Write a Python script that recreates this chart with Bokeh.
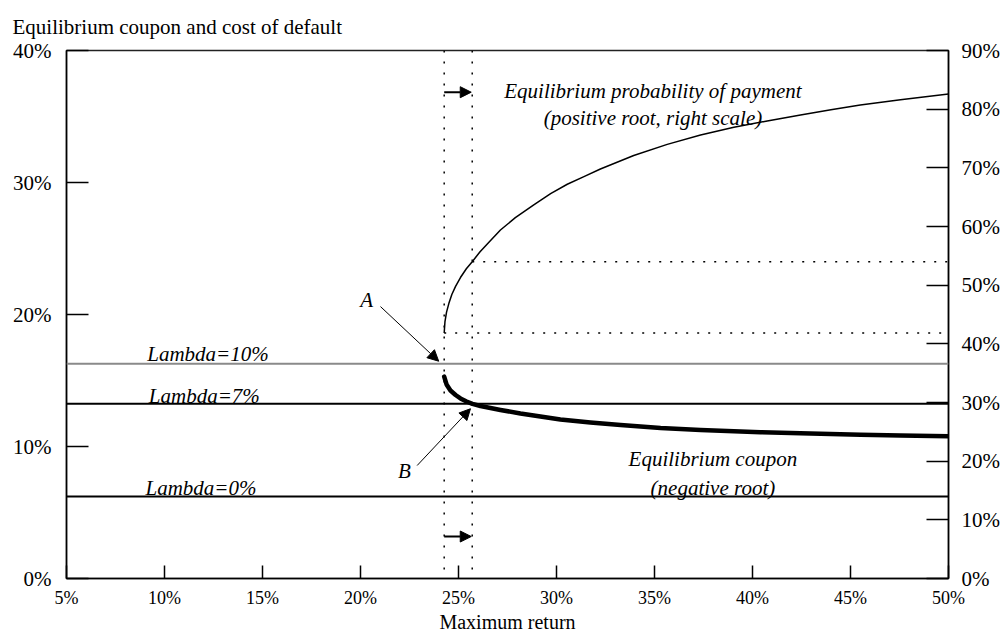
from bokeh.plotting import figure
from bokeh.models import (LinearAxis, Range1d, FixedTicker, Span, Arrow, NormalHead,
                          Title, CustomJSTickFormatter)
from bokeh.core.properties import value
from bokeh.embed import file_html
from bokeh.resources import INLINE

FONT = "Liberation Serif"

# ---------------- data ----------------
x_ticks = [5, 10, 15, 20, 25, 30, 35, 40, 45, 50]
left_ticks = [0, 10, 20, 30, 40]
right_ticks = [0, 10, 20, 30, 40, 50, 60, 70, 80, 90]

lambda_names = ["Lambda=10%", "Lambda=7%", "Lambda=0%"]
lambda_levels = [16.27, 13.23, 6.21]

threshold_x = [24.27, 25.70]        # points A and B
threshold_prob = [41.85, 54.0]      # probability of payment at A and B (right scale)

coupon_x = [24.27, 24.39, 24.59, 24.85, 25.10, 25.41, 25.71, 26.12, 27.14, 28.16,
            29.18, 30.20, 31.73, 33.27, 35.31, 37.35, 40.41, 42.45, 45.51, 47.55, 50.0]
coupon_y = [15.30, 14.70, 14.24, 13.90, 13.64, 13.41, 13.23, 13.07, 12.77, 12.50,
            12.27, 12.05, 11.82, 11.63, 11.40, 11.25, 11.08, 11.00, 10.89, 10.83, 10.78]

prob_x = [24.27, 24.31, 24.39, 24.51, 24.66, 24.85, 25.10, 25.40, 25.70, 26.10,
          26.60, 27.14, 27.90, 28.84, 29.70, 30.55, 31.40, 32.24, 33.94, 35.65,
          37.35, 39.05, 40.75, 42.45, 44.00, 45.50, 47.55, 50.0]
prob_y = [41.85, 43.8, 45.4, 46.9, 48.4, 49.8, 51.3, 52.8, 54.0, 55.7,
          57.5, 59.4, 61.5, 63.7, 65.6, 67.2, 68.5, 69.8, 72.1, 74.0,
          75.6, 76.9, 78.0, 79.0, 79.9, 80.7, 81.6, 82.6]

# ---------------- figure ----------------
p = figure(width=1002, height=635, output_backend="svg", toolbar_location=None,
           x_range=Range1d(x_ticks[0], x_ticks[-1]),
           y_range=Range1d(left_ticks[0], left_ticks[-1]),
           min_border_left=66, min_border_right=54, min_border_top=50, min_border_bottom=57)
p.extra_y_ranges = {"right": Range1d(right_ticks[0], right_ticks[-1])}
p.xgrid.visible = False
p.ygrid.visible = False
p.background_fill_color = "white"
p.border_fill_color = "white"
p.outline_line_color = "#222222"
p.outline_line_width = 1.5

pct = CustomJSTickFormatter(code="return tick.toFixed(0) + '%';")

xa = p.xaxis[0]
xa.ticker = FixedTicker(ticks=x_ticks)
xa.formatter = pct
xa.major_tick_in = 13
xa.major_tick_out = 0
xa.minor_tick_line_color = None
xa.major_label_standoff = 9
xa.major_label_text_font = FONT
xa.major_label_text_font_size = "18px"
xa.major_label_text_color = "black"
xa.axis_line_width = 1.5
xa.major_tick_line_width = 1.5
xa.axis_label = "Maximum return"
xa.axis_label_standoff = 0
xa.axis_label_text_font = FONT
xa.axis_label_text_font_size = "20px"
xa.axis_label_text_font_style = "normal"
xa.axis_label_text_color = "black"

ya = p.yaxis[0]
ya.ticker = FixedTicker(ticks=left_ticks)
ya.formatter = pct
ya.major_tick_in = 22
ya.major_tick_out = 0
ya.minor_tick_line_color = None
ya.major_label_standoff = 15
ya.major_label_text_font = FONT
ya.major_label_text_font_size = "21px"
ya.major_label_text_color = "black"
ya.axis_line_width = 1.5
ya.major_tick_line_width = 1.5

ra = LinearAxis(y_range_name="right", ticker=FixedTicker(ticks=right_ticks), formatter=pct)
ra.major_tick_in = 22
ra.major_tick_out = 0
ra.minor_tick_line_color = None
ra.major_label_standoff = 13
ra.major_label_text_font = FONT
ra.major_label_text_font_size = "21px"
ra.major_label_text_color = "black"
ra.axis_line_width = 1.5
ra.major_tick_line_width = 1.5
p.add_layout(ra, "right")

p.title = Title(text="Equilibrium coupon and cost of default", align="left", offset=-54,
                standoff=24, text_font=FONT, text_font_size="21px",
                text_font_style="normal", text_color="black")

# ---------------- reference lines ----------------
lambda_colors = ["#8a8a8a", "black", "black"]
for lev, col in zip(lambda_levels, lambda_colors):
    p.add_layout(Span(location=lev, dimension="width", line_color=col, line_width=2))

for tx in threshold_x:
    p.add_layout(Span(location=tx, dimension="height", line_color="black",
                      line_width=1.5, line_dash="2 9"))

p.segment(x0=threshold_x, y0=threshold_prob, x1=[x_ticks[-1]] * 2, y1=threshold_prob,
          y_range_name="right", line_color="black", line_width=1.5, line_dash="2 9")

# ---------------- curves ----------------
p.line(prob_x, prob_y, y_range_name="right", line_color="black", line_width=1.5,
       line_join="round")
p.line(coupon_x, coupon_y, line_color="black", line_width=4.5, line_cap="round",
       line_join="round")

# ---------------- arrows ----------------
def head():
    return NormalHead(size=11, fill_color="black", line_color="black")

for ay in [36.84, 3.18]:
    p.add_layout(Arrow(end=head(), x_start=threshold_x[0], y_start=ay,
                       x_end=threshold_x[1] - 0.05, y_end=ay, line_width=2, line_color="black"))
p.add_layout(Arrow(end=head(), x_start=21.02, y_start=20.6, x_end=23.99, y_end=16.46,
                   line_width=1, line_color="black"))
p.add_layout(Arrow(end=head(), x_start=22.89, y_start=8.56, x_end=25.61, y_end=12.86,
                   line_width=1, line_color="black"))

# ---------------- texts ----------------
it = dict(text_font=value(FONT), text_font_style="italic", text_font_size="21px",
          text_color="black")
p.text(x=[9.12, 9.20, 9.03], y=[17.02, 13.79, 6.82], text=lambda_names,
       text_align="left", text_baseline="alphabetic", **it)
p.text(x=[34.92, 34.92], y=[36.92, 34.92],
       text=["Equilibrium probability of payment", "(positive root, right scale)"],
       text_align="center", text_baseline="alphabetic", **it)
p.text(x=[37.98, 37.98], y=[9.02, 6.89],
       text=["Equilibrium coupon", "(negative root)"],
       text_align="center", text_baseline="alphabetic", **it)
p.text(x=[20.32, 22.24], y=[21.11, 8.18], text=["A", "B"],
       text_align="center", text_baseline="middle", **it)

open("out.html", "w").write(file_html(p, INLINE))
